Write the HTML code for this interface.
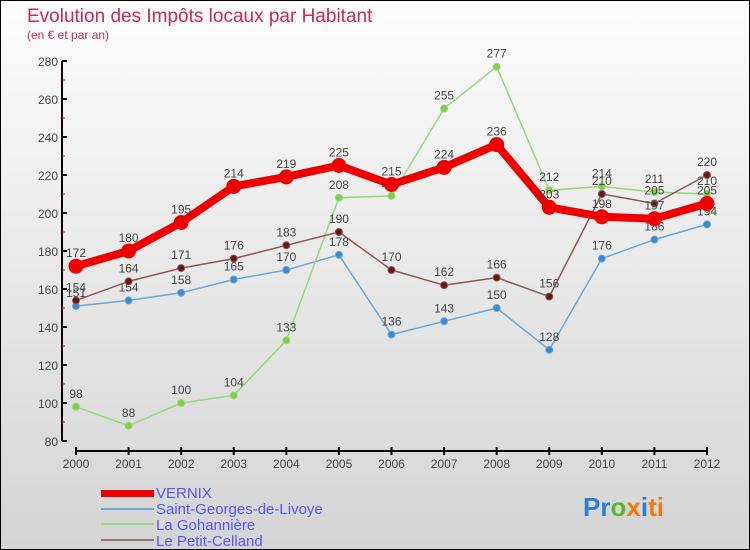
<!DOCTYPE html>
<html><head><meta charset="utf-8"><style>
body{margin:0;}
#c{width:748px;height:548px;border:1px solid #000;background:linear-gradient(#fcfcfc,#d4d4d4);position:relative;font-family:"Liberation Sans",sans-serif;overflow:hidden}
</style></head><body>
<div id="c">
<svg id="s" width="748" height="548" style="position:absolute;left:0;top:0">
<text x="26" y="21" font-size="19" fill="#c8285a">Evolution des Impôts locaux par Habitant</text>
<text x="26" y="38" font-size="12" fill="#c8285a">(en € et par an)</text>
<g id="ax"></g><g id="series"></g>
<g>
<rect x="100" y="489" width="53" height="7" fill="#e00"/>
<text x="155" y="497" font-size="15" fill="#55f">VERNIX</text>
<rect x="100" y="507" width="53" height="2" fill="#6ea6d0"/>
<text x="155" y="513" font-size="15" fill="#55f">Saint-Georges-de-Livoye</text>
<rect x="100" y="522" width="53" height="2" fill="#99d77a"/>
<text x="155" y="529" font-size="15" fill="#55f">La Gohannière</text>
<rect x="100" y="538" width="53" height="2" fill="#947070"/>
<text x="155" y="545" font-size="15" fill="#55f">Le Petit-Celland</text>
</g>
<text x="582" y="515" font-size="26" font-weight="bold"><tspan fill="#2a7fd0">Pr</tspan><tspan fill="#5bb82a">o</tspan><tspan fill="#f07a10">x</tspan><tspan fill="#2a7fd0">i</tspan><tspan fill="#f07a10">ti</tspan></text>
</svg></div>
<script>
const years=[2000,2001,2002,2003,2004,2005,2006,2007,2008,2009,2010,2011,2012];
const vernix=[172,180,195,214,219,225,215,224,236,203,198,197,205];
const saintGeorges=[151,154,158,165,170,178,136,143,150,128,176,186,194];
const gohanniere=[98,88,100,104,133,208,209,255,277,212,214,211,210];
const petitCelland=[154,164,171,176,183,190,170,162,166,156,210,205,220];
const yTicks=[80,100,120,140,160,180,200,220,240,260,280];
const NS="http://www.w3.org/2000/svg";
const xs=i=>75+i*(706-75)/12;
const ys=v=>440-(v-80)*1.9;
function mk(t,a,p){const e=document.createElementNS(NS,t);for(const k in a)e.setAttribute(k,a[k]);p.appendChild(e);return e;}
const ax=document.getElementById('ax');
let yl=mk('line',{x1:61,y1:60,x2:61,y2:440,stroke:'#000','stroke-width':2},ax);


yTicks.forEach(v=>{
 mk('line',{x1:61,x2:66,y1:ys(v),y2:ys(v),stroke:'#000','stroke-width':2},ax);
 if(v<280) mk('line',{x1:61,x2:64,y1:ys(v+10),y2:ys(v+10),stroke:'#d00','stroke-width':1},ax);
 const t=mk('text',{x:57,y:ys(v)+5,'font-size':12,fill:'#444','text-anchor':'end'},ax);t.textContent=v;
 
 
});
let xl=mk('line',{x1:75,y1:450,x2:706,y2:450,stroke:'#000','stroke-width':2},ax);


years.forEach((y,i)=>{
 mk('line',{x1:xs(i),x2:xs(i),y1:446,y2:454,stroke:'#000','stroke-width':2},ax);
 const t=mk('text',{x:xs(i),y:467,'font-size':12,fill:'#444','text-anchor':'middle'},ax);t.textContent=y;
 
 
});
const sg=document.getElementById('series');
function draw(data,name,color,lw,r,dot){
 const g=mk('g',{},sg);
 
 
 mk('polyline',{points:data.map((v,i)=>xs(i)+','+ys(v)).join(' '),fill:'none',stroke:color,'stroke-width':lw,'stroke-linejoin':'round'},g);
 data.forEach((v,i)=>{
  const c=mk('circle',{cx:xs(i),cy:ys(v),r:r,fill:dot,stroke:color,'stroke-width':1},g);
  
  
  const t=mk('text',{x:xs(i),y:ys(v)-9,'font-size':12,fill:'#444','text-anchor':'middle'},g);t.textContent=v;
  
  
 });
}
draw(saintGeorges,'saint-georges','#6ea6d0',1.5,3.5,'#3a8ad0');
draw(gohanniere,'gohanniere','#99d77a',1.5,3.5,'#7ad040');
draw(petitCelland,'petit-celland','#8a5858',1.5,3.5,'#6a1414');
draw(vernix,'vernix','#ee0000',8,7,'#ee0000');
</script>
</body></html>
